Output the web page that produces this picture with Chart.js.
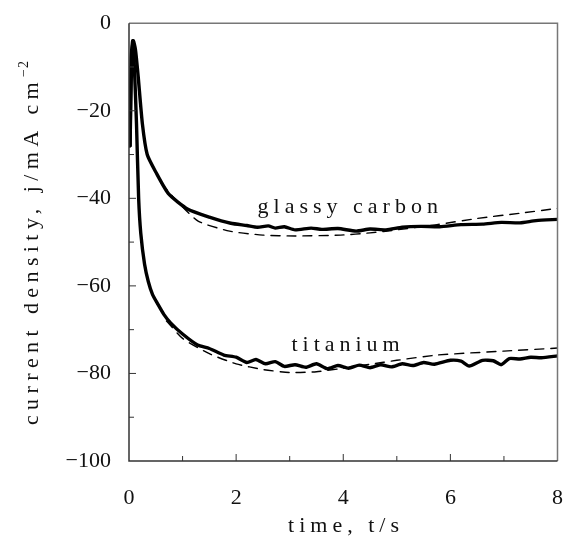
<!DOCTYPE html>
<html>
<head>
<meta charset="utf-8">
<script src="https://cdn.jsdelivr.net/npm/chart.js@4/dist/chart.umd.min.js"></script>
<style>
  html, body { margin: 0; padding: 0; background: #fff; }
  #wrap { width: 579px; height: 548px; }
</style>
</head>
<body>
<div id="wrap"><canvas id="chart" width="579" height="548"></canvas></div>
<script>
// glassy carbon, measured (solid) and fitted (dashed)
const timeGC = [0.02, 0.05, 0.08, 0.12, 0.17, 0.25, 0.34, 0.5, 0.74, 1.1, 1.5, 1.9, 2.2, 2.4, 2.6, 2.73, 2.9, 3.1, 3.4, 3.6, 3.9, 4.24, 4.5, 4.8, 5.1, 5.45, 5.8, 6.2, 6.6, 6.95, 7.3, 7.6, 8.0];
const gcMeasured = [-28, -8, -4, -6, -12, -23, -30, -34, -39, -42.5, -44.3, -45.7, -46.2, -46.6, -46.3, -46.8, -46.5, -47.2, -46.8, -47.1, -46.9, -47.5, -47.0, -47.2, -46.6, -46.4, -46.5, -46.0, -45.9, -45.5, -45.6, -45.1, -44.8];
const timeGCFit = [0.6, 0.87, 1.29, 1.88, 2.5, 3.1, 3.95, 4.5, 5.0, 5.75, 6.5, 7.3, 8.0];
const gcFit = [-36.5, -40.3, -45.2, -47.5, -48.4, -48.6, -48.4, -47.9, -47.2, -46.0, -44.6, -43.4, -42.3];

// titanium, measured (solid) and fitted (dashed)
const timeTi = [0.02, 0.04, 0.07, 0.1, 0.14, 0.18, 0.22, 0.29, 0.36, 0.44, 0.53, 0.65, 0.78, 1.0, 1.28, 1.5, 1.77, 2.0, 2.2, 2.37, 2.55, 2.73, 2.9, 3.1, 3.3, 3.5, 3.7, 3.9, 4.1, 4.3, 4.5, 4.7, 4.9, 5.1, 5.3, 5.5, 5.7, 6.0, 6.2, 6.35, 6.6, 6.8, 6.95, 7.1, 7.3, 7.5, 7.7, 8.0];
const tiMeasured = [-28, -8, -4, -10, -23, -40, -48, -55, -59, -62, -64, -66.5, -68.5, -71, -73.5, -74.3, -75.8, -76.3, -77.5, -76.8, -77.8, -77.3, -78.4, -78.0, -78.6, -77.8, -78.9, -78.2, -78.8, -78.1, -78.7, -78.0, -78.5, -77.8, -78.2, -77.5, -77.9, -77.0, -77.2, -78.3, -77.0, -77.1, -78.0, -76.6, -76.7, -76.3, -76.4, -76.0];
const timeTiFit = [0.7, 1.0, 1.5, 2.0, 2.5, 3.0, 3.5, 4.0, 4.5, 5.0, 5.75, 7.0, 8.0];
const tiFit = [-68, -72, -75.5, -77.8, -79.1, -79.8, -79.6, -78.8, -77.9, -77.0, -75.8, -74.9, -74.2];

const xTicks = [0, 2, 4, 6, 8];
const yTicks = [-100, -80, -60, -40, -20, 0];

function toPoints(xs, ys) {
    return xs.map((x, i) => ({ x: x, y: ys[i] }));
}

const serif = "'Liberation Serif', 'DejaVu Serif', serif";

// box, inward ticks, curve labels and axis titles
const framePlugin = {
    id: "frame",
    afterDraw(chart) {
        const ctx = chart.ctx;
        const a = chart.chartArea;
        const xs = chart.scales.x;
        const ys = chart.scales.y;
        ctx.save();

        ctx.lineWidth = 1.5;
        ctx.strokeStyle = "#777";
        ctx.beginPath();
        ctx.moveTo(a.left, a.top);
        ctx.lineTo(a.right, a.top);
        ctx.lineTo(a.right, a.bottom);
        ctx.stroke();
        ctx.strokeStyle = "#333";
        ctx.beginPath();
        ctx.moveTo(a.left, a.top);
        ctx.lineTo(a.left, a.bottom);
        ctx.lineTo(a.right, a.bottom);
        ctx.stroke();

        ctx.lineWidth = 1;
        ctx.strokeStyle = "#333";
        for (let v = 1; v < 8; v++) {
            const px = xs.getPixelForValue(v);
            const len = v % 2 === 0 ? 7 : 5;
            ctx.beginPath();
            ctx.moveTo(px, a.bottom);
            ctx.lineTo(px, a.bottom - len);
            ctx.stroke();
        }
        for (let v = -90; v < 0; v += 10) {
            const py = ys.getPixelForValue(v);
            const len = v % 20 === 0 ? 7 : 5;
            ctx.beginPath();
            ctx.moveTo(a.left, py);
            ctx.lineTo(a.left + len, py);
            ctx.stroke();
        }

        ctx.fillStyle = "#111";
        ctx.font = "22px " + serif;
        ctx.letterSpacing = "5px";
        ctx.textAlign = "center";
        ctx.textBaseline = "middle";
        ctx.fillText("glassy carbon", xs.getPixelForValue(4.13), ys.getPixelForValue(-42.1));
        ctx.fillText("titanium", xs.getPixelForValue(4.09), ys.getPixelForValue(-73.5));

        // x title
        ctx.fillText("time, t/s", 346, 526);

        // y title, rotated, with superscript
        ctx.letterSpacing = "5.4px";
        ctx.translate(32, 243);
        ctx.rotate(-Math.PI / 2);
        const main = "current density, j/mA cm";
        const w = ctx.measureText(main).width;
        ctx.textAlign = "left";
        ctx.fillText(main, -w / 2 - 8, 0);
        ctx.font = "14px " + serif;
        ctx.letterSpacing = "1px";
        ctx.fillText("\u22122", w / 2 - 8, -8);
        ctx.restore();
    }
};

new Chart(document.getElementById("chart"), {
    type: "scatter",
    data: {
        datasets: [
            { data: toPoints(timeGC, gcMeasured), borderColor: "#000", borderWidth: 3.4 },
            { data: toPoints(timeGCFit, gcFit), borderColor: "#000", borderWidth: 1.4, borderDash: [9, 7] },
            { data: toPoints(timeTi, tiMeasured), borderColor: "#000", borderWidth: 3.4 },
            { data: toPoints(timeTiFit, tiFit), borderColor: "#000", borderWidth: 1.4, borderDash: [9, 7] }
        ]
    },
    options: {
        responsive: false,
        animation: false,
        showLine: true,
        elements: {
            point: { radius: 0, hoverRadius: 0 },
            line: { tension: 0.2, borderCapStyle: "round", borderJoinStyle: "round" }
        },
        layout: { padding: { top: 14, right: 8, left: 0, bottom: 0 } },
        plugins: { legend: { display: false }, tooltip: { enabled: false } },
        scales: {
            x: {
                type: "linear",
                min: 0,
                max: 8,
                grid: { display: false },
                border: { display: false },
                afterBuildTicks: (s) => { s.ticks = xTicks.map(v => ({ value: v })); },
                afterFit: (s) => { s.height = 87; },
                ticks: {
                    padding: 16,
                    color: "#111",
                    font: { family: serif, size: 22 },
                    maxRotation: 0
                }
            },
            y: {
                type: "linear",
                min: -100,
                max: 0,
                grid: { display: false },
                border: { display: false },
                afterBuildTicks: (s) => { s.ticks = yTicks.map(v => ({ value: v })); },
                afterFit: (s) => { s.width = 129; },
                ticks: {
                    padding: 10,
                    color: "#111",
                    font: { family: serif, size: 22 },
                    callback: (v) => v < 0 ? "\u2212" + Math.abs(v) : String(v)
                }
            }
        }
    },
    plugins: [framePlugin]
});
</script>
</body>
</html>
